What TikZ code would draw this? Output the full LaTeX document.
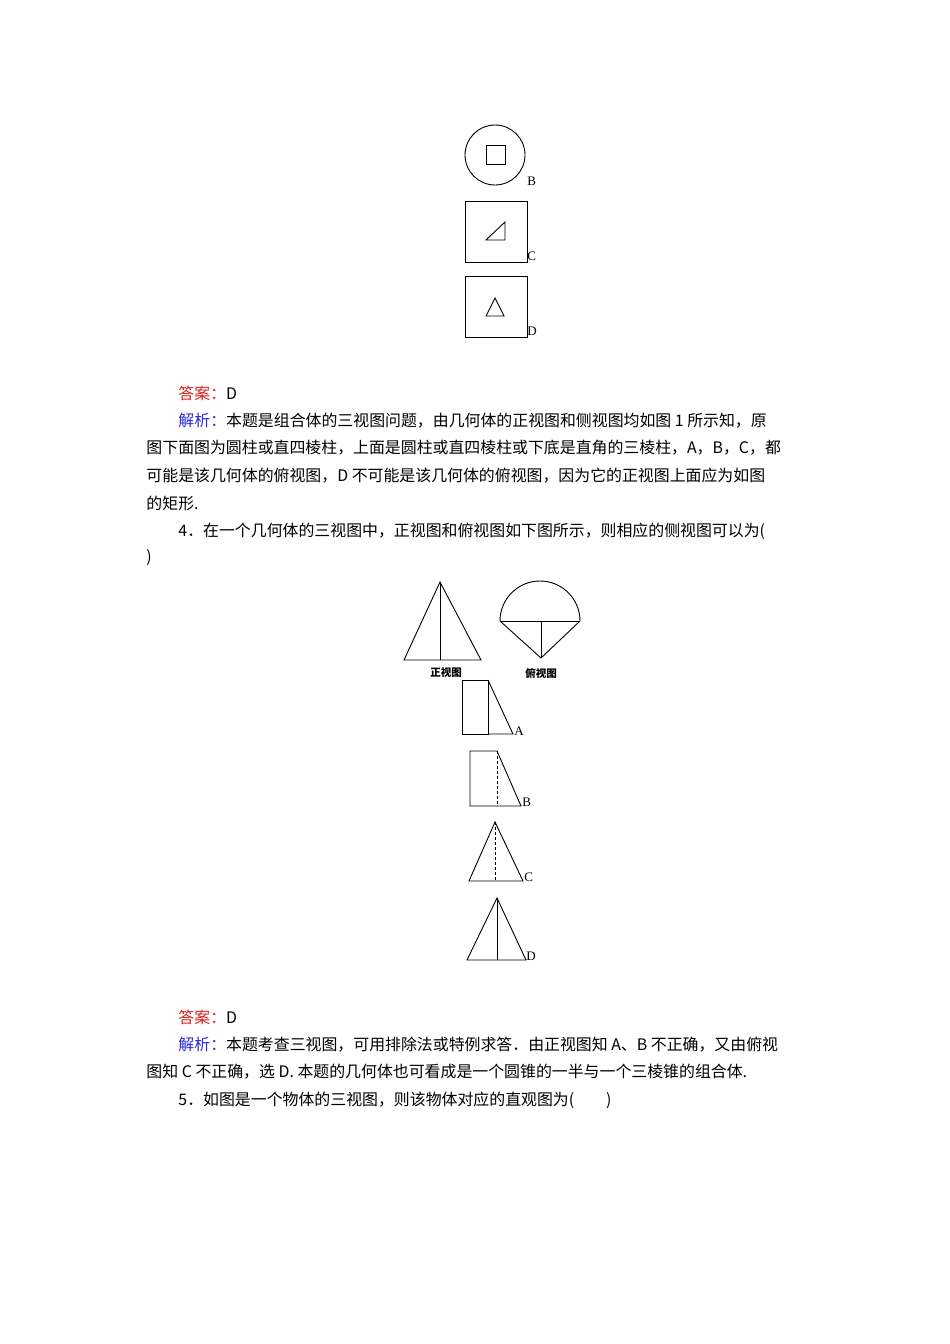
\documentclass[tikz,border=0pt]{standalone}
\usepackage{fontspec}
\setmainfont{Liberation Serif}
\newfontfamily\cjk{Noto Sans CJK SC}
\definecolor{ansred}{RGB}{220,30,30}
\definecolor{jxblue}{RGB}{40,40,210}
\begin{document}
\begin{tikzpicture}[x=1pt,y=-1pt,line width=0.9pt,
  txt/.style={anchor=west,inner sep=0,font=\cjk\fontsize{15.9}{17}\selectfont},
  lbl/.style={anchor=west,inner sep=0,font=\fontsize{13}{14}\selectfont},
  viewcap/.style={inner sep=0,font=\cjk\bfseries\fontsize{10.5}{12}\selectfont},
  dsh/.style={dashed,dash pattern=on 3pt off 2pt}]
\useasboundingbox (0,0) rectangle (950,1344);
% top figures
\draw (495,155) circle (30);
\draw (486,145) rectangle (505,164);
\node[lbl] (lB1) at (527,181) {B};
\draw (465,201) rectangle (527,262);
\draw (486,240) -- (505,240) -- (505,222) -- cycle;
\node[lbl] (lC1) at (527,256) {C};
\draw (465,276) rectangle (527,337);
\draw (486,316) -- (504,316) -- (495,298) -- cycle;
\node[lbl] (lD1) at (527,331) {D};
% text block 1
\node[txt] (a1) at (178,393) {\textcolor{ansred}{答案：}D};
\node[txt] (j1) at (178,421) {\textcolor{jxblue}{解析：}本题是组合体的三视图问题，由几何体的正视图和侧视图均如图 1 所示知，原};
\node[txt] (j2) at (146,448) {图下面图为圆柱或直四棱柱，上面是圆柱或直四棱柱或下底是直角的三棱柱，A，B，C，都};
\node[txt] (j3) at (146,476) {可能是该几何体的俯视图，D 不可能是该几何体的俯视图，因为它的正视图上面应为如图};
\node[txt] (j4) at (146,503) {的矩形.};
\node[txt] (q4) at (178,531) {4．在一个几何体的三视图中，正视图和俯视图如下图所示，则相应的侧视图可以为(};
\node[txt] (q4b) at (146,558) {)};
% front and top views
\draw (404,660) -- (440,582) -- (481,660) -- cycle;
\draw (440,582) -- (440,660);
\node[viewcap] (c1) at (446,673) {正视图};
\draw (500,621) arc (180:360:40) -- (541,658) -- cycle;
\draw (500,621) -- (580,621);
\draw (541,621) -- (541,658);
\node[viewcap] (c2) at (541,673) {俯视图};
% options
\draw (462,680) rectangle (488,734);
\draw (488,680) -- (513,734) -- (488,734);
\node[lbl] (lA) at (514,731) {A};
\draw (470,751) -- (497,751) -- (521,806) -- (470,806) -- cycle;
\draw[dsh] (497,751) -- (497,806);
\node[lbl] (lB) at (522,802) {B};
\draw (469,881) -- (495,822) -- (523,881) -- cycle;
\draw[dsh] (495,822) -- (495,881);
\node[lbl] (lC) at (524,877) {C};
\draw (467,960) -- (497,898) -- (526,960) -- cycle;
\draw (497,898) -- (497,960);
\node[lbl] (lD) at (526,956) {D};
% text block 2
\node[txt] (a2) at (178,1017) {\textcolor{ansred}{答案：}D};
\node[txt] (k1) at (178,1045) {\textcolor{jxblue}{解析：}本题考查三视图，可用排除法或特例求答．由正视图知 A、B 不正确，又由俯视};
\node[txt] (k2) at (146,1072) {图知 C 不正确，选 D. 本题的几何体也可看成是一个圆锥的一半与一个三棱锥的组合体.};
\node[txt] (q5) at (178,1100) {5．如图是一个物体的三视图，则该物体对应的直观图为(\quad\quad )};
\end{tikzpicture}
\end{document}
